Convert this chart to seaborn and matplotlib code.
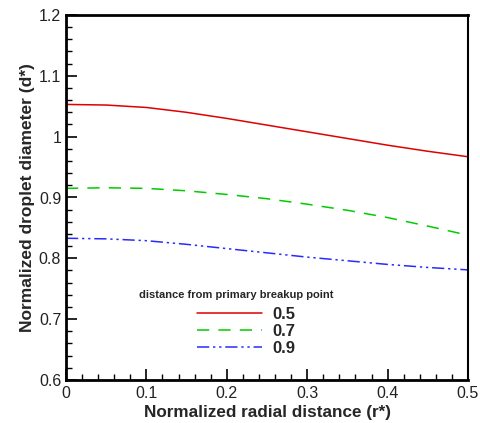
import numpy as np
import pandas as pd
import seaborn as sns
import matplotlib.pyplot as plt
from matplotlib.ticker import MultipleLocator

# radial positions and droplet diameters
r_star = [0.0, 0.05, 0.1, 0.15, 0.2, 0.25, 0.3, 0.35, 0.4, 0.45, 0.5]
d_05 = [1.053, 1.052, 1.048, 1.040, 1.030, 1.019, 1.008, 0.997, 0.986, 0.976, 0.967]
d_07 = [0.915, 0.916, 0.915, 0.911, 0.905, 0.898, 0.889, 0.879, 0.867, 0.853, 0.838]
d_09 = [0.833, 0.832, 0.829, 0.823, 0.816, 0.809, 0.802, 0.796, 0.790, 0.785, 0.781]
labels = ["0.5", "0.7", "0.9"]
colors = ["#e00000", "#00cc00", "#2a2aff"]
dashes = [None, (8, 6), (8, 2.5, 1.5, 2.5, 1.5, 2.5)]
x_ticks = [0, 0.1, 0.2, 0.3, 0.4, 0.5]
x_labels = ["0", "0.1", "0.2", "0.3", "0.4", "0.5"]
y_ticks = [0.6, 0.7, 0.8, 0.9, 1.0, 1.1, 1.2]
y_labels = ["0.6", "0.7", "0.8", "0.9", "1", "1.1", "1.2"]


def set_config():
    sns.set_style("ticks")
    plt.rcParams["font.family"] = ["Liberation Sans", "DejaVu Sans"]
    plt.rcParams["xtick.direction"] = "in"
    plt.rcParams["ytick.direction"] = "in"


def draw():
    fig = plt.figure(figsize=(4.81, 4.23), dpi=100)
    ax = fig.add_axes([66 / 481, 1 - 380 / 423, 402 / 481, 365 / 423])

    for lab, ys, col, ds in zip(labels, [d_05, d_07, d_09], colors, dashes):
        df = pd.DataFrame({"r": r_star, "d": ys})
        sns.lineplot(data=df, x="r", y="d", ax=ax, color=col, lw=1.1, label=lab)
        if ds is not None:
            ax.lines[-1].set_dashes(ds)

    ax.set_xlim(0, 0.5)
    ax.set_ylim(0.6, 1.2)
    ax.set_xticks(x_ticks)
    ax.set_xticklabels(x_labels)
    ax.set_yticks(y_ticks)
    ax.set_yticklabels(y_labels)
    ax.xaxis.set_minor_locator(MultipleLocator(0.02))
    ax.yaxis.set_minor_locator(MultipleLocator(0.02))
    ax.tick_params(which="both", top=False, right=False)
    ax.tick_params(which="major", length=8, width=1.2, labelsize=11.5, color="black", labelcolor="#222222")
    ax.tick_params(which="minor", length=4, width=1, color="black")
    ax.tick_params(axis="x", pad=4)
    for side in ["left", "bottom", "top"]:
        ax.spines[side].set_linewidth(2)
    ax.spines["right"].set_linewidth(1.5)
    for s in ax.spines.values():
        s.set_color("black")

    ax.set_xlabel("Normalized radial distance (r*)", fontsize=12.3, fontweight="bold", labelpad=3)
    ax.set_ylabel("Normalized droplet diameter (d*)", fontsize=12.5, fontweight="bold", labelpad=3)

    ax.text(139 / 481, 1 - 295 / 423, "distance from primary breakup point",
            transform=fig.transFigure, fontsize=8, fontweight="bold", va="center", ha="left")
    ax.legend(loc="upper left", bbox_to_anchor=(182 / 481, 1 - 292 / 423),
              bbox_transform=fig.transFigure, frameon=False, handlelength=3.9,
              labelspacing=0.12, handletextpad=0.6, prop={"weight": "bold", "size": 12})

    fig.savefig("out.png", dpi=100)


def main():
    set_config()
    draw()


if __name__ == "__main__":
    main()
